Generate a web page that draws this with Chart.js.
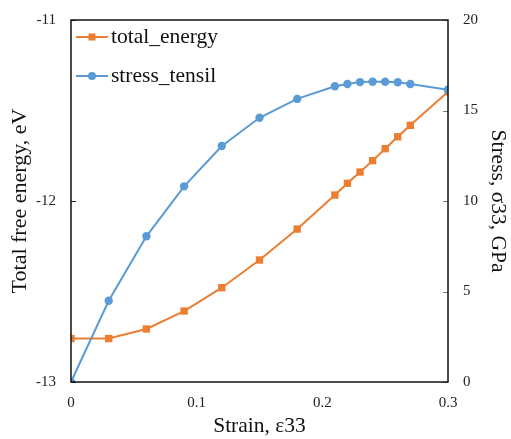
<!DOCTYPE html>
<html>
<head>
<meta charset="utf-8">
<script src="https://cdn.jsdelivr.net/npm/chart.js@4/dist/chart.umd.min.js"></script>
<style>
  html, body { margin: 0; padding: 0; background: #fff; }
  #wrap { width: 511px; height: 439px; }
</style>
</head>
<body>
<div id="wrap"><canvas id="c" width="511" height="439"></canvas></div>
<script>
// Strain values (x) shared by both series
const strain = [0, 0.03, 0.06, 0.09, 0.12, 0.15, 0.18, 0.21, 0.22, 0.23, 0.24, 0.25, 0.26, 0.27, 0.30];
// Total free energy, eV (left axis)
const totalEnergy = [-12.76, -12.76, -12.707, -12.608, -12.479, -12.326, -12.155, -11.967, -11.902, -11.840, -11.777, -11.711, -11.645, -11.582, -11.396];
// Tensile stress sigma33, GPa (right axis)
const stressTensil = [0, 4.49, 8.05, 10.81, 13.04, 14.60, 15.64, 16.34, 16.46, 16.57, 16.59, 16.59, 16.56, 16.46, 16.15];

const seriesNames = ['total_energy', 'stress_tensil'];
const strainTicks = [0, 0.1, 0.2, 0.3];
const energyTicks = [-13, -12, -11];
const stressTicks = [0, 5, 10, 15, 20];

const ORANGE = '#ED7D31';
const BLUE = '#5B9BD5';
const SERIF = '"Liberation Serif", "Times New Roman", serif';

const toPoints = (ys) => strain.map((x, i) => ({ x: x, y: ys[i] }));
const setTicks = (vals) => (scale) => { scale.ticks = vals.map(v => ({ value: v })); };

// Frame around the plot area, inward tick marks, and the in-plot legend
const framePlugin = {
  id: 'frame',
  afterDatasetsDraw(chart) {
    const { ctx, chartArea: a, scales } = chart;
    ctx.save();
    // inward ticks on the left axis
    ctx.strokeStyle = '#222';
    ctx.lineWidth = 1;
    energyTicks.forEach(v => {
      const y = Math.round(scales.yE.getPixelForValue(v)) + 0.5;
      ctx.beginPath(); ctx.moveTo(a.left, y); ctx.lineTo(a.left + 5, y); ctx.stroke();
    });
    // inward ticks on the right axis
    ctx.strokeStyle = '#777';
    stressTicks.forEach(v => {
      const y = Math.round(scales.yS.getPixelForValue(v)) + 0.5;
      ctx.beginPath(); ctx.moveTo(a.right - 5, y); ctx.lineTo(a.right, y); ctx.stroke();
    });
    // plot frame
    ctx.strokeStyle = '#111';
    ctx.lineWidth = 1.5;
    ctx.strokeRect(a.left, a.top, a.right - a.left, a.bottom - a.top);
    ctx.restore();
  },
  afterDraw(chart) {
    const { ctx, chartArea: a } = chart;
    const rows = [a.top + 17, a.top + 56];
    ctx.save();
    chart.data.datasets.forEach((ds, i) => {
      const y = rows[i];
      const x0 = a.left + 5, x1 = a.left + 37, xm = (x0 + x1) / 2;
      ctx.strokeStyle = ds.borderColor;
      ctx.lineWidth = 2;
      ctx.beginPath(); ctx.moveTo(x0, y); ctx.lineTo(x1, y); ctx.stroke();
      ctx.fillStyle = ds.backgroundColor;
      if (ds.pointStyle === 'rect') {
        ctx.fillRect(xm - 3.5, y - 3.5, 7, 7);
      } else {
        ctx.beginPath(); ctx.arc(xm, y, 4, 0, Math.PI * 2); ctx.fill();
      }
      ctx.fillStyle = '#111';
      ctx.font = '21.5px ' + SERIF;
      ctx.textBaseline = 'middle';
      ctx.textAlign = 'left';
      ctx.fillText(ds.label, x1 + 3, y);
    });
    ctx.restore();
  }
};

new Chart(document.getElementById('c'), {
  type: 'line',
  data: {
    datasets: [
      {
        label: seriesNames[0],
        data: toPoints(totalEnergy),
        yAxisID: 'yE',
        borderColor: ORANGE,
        backgroundColor: ORANGE,
        borderWidth: 2,
        pointStyle: 'rect',
        pointRadius: 5.2,
        pointBorderWidth: 0,
        tension: 0,
        order: 1
      },
      {
        label: seriesNames[1],
        data: toPoints(stressTensil),
        yAxisID: 'yS',
        borderColor: BLUE,
        backgroundColor: BLUE,
        borderWidth: 2,
        pointStyle: 'circle',
        pointRadius: 4.2,
        pointBorderWidth: 0,
        tension: 0,
        order: 0
      }
    ]
  },
  options: {
    responsive: false,
    animation: false,
    devicePixelRatio: 1,
    layout: { padding: { top: 20, left: 0, right: 0, bottom: 0 } },
    plugins: { legend: { display: false }, tooltip: { enabled: false } },
    scales: {
      x: {
        type: 'linear',
        min: 0, max: 0.3,
        afterBuildTicks: setTicks(strainTicks),
        afterFit: (s) => { s.height = 57; },
        grid: { display: false },
        border: { display: false },
        ticks: { color: '#222', padding: 4, font: { family: SERIF, size: 15 }, callback: (v) => String(v) },
        title: { display: true, text: 'Strain, ε33', color: '#111', font: { family: SERIF, size: 21.5 }, padding: { top: 0, bottom: 0 } }
      },
      yE: {
        type: 'linear',
        position: 'left',
        min: -13, max: -11,
        afterBuildTicks: setTicks(energyTicks),
        afterFit: (s) => { s.width = 71; },
        grid: { display: false },
        border: { display: false },
        ticks: { color: '#222', padding: 7, font: { family: SERIF, size: 15 } },
        title: { display: true, text: 'Total free energy, eV', color: '#111', font: { family: SERIF, size: 22 }, padding: { top: 7, bottom: 0 } }
      },
      yS: {
        type: 'linear',
        position: 'right',
        min: 0, max: 20,
        afterBuildTicks: setTicks(stressTicks),
        afterFit: (s) => { s.width = 63; },
        grid: { display: false },
        border: { display: false },
        ticks: { color: '#222', padding: 7, font: { family: SERIF, size: 15 } },
        title: { display: true, text: 'Stress, σ33, GPa', color: '#111', font: { family: SERIF, size: 21.5 }, padding: { top: 0, bottom: 0 } }
      }
    }
  },
  plugins: [framePlugin]
});
</script>
</body>
</html>
